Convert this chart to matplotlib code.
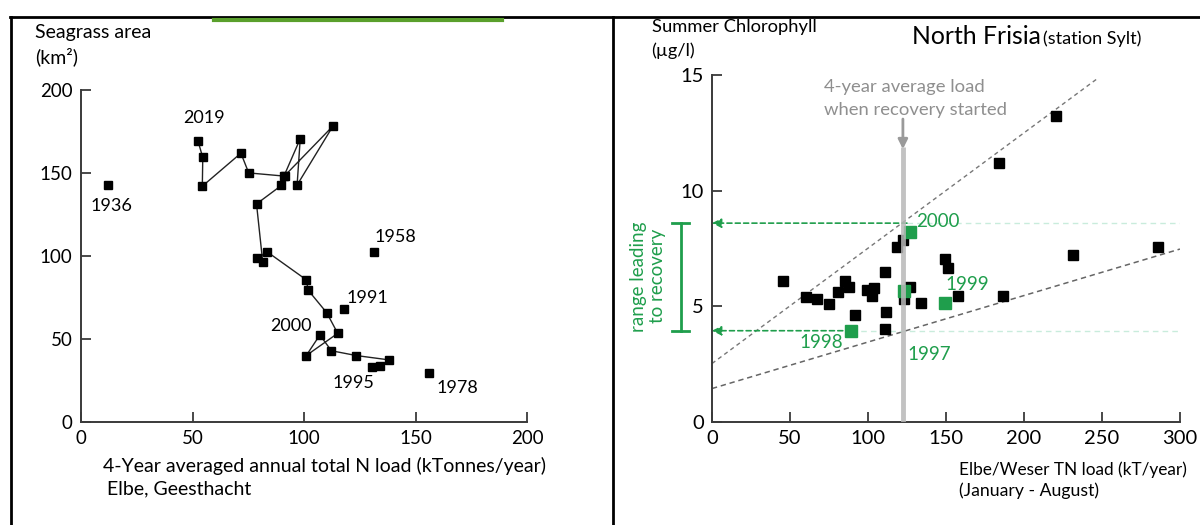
import matplotlib
matplotlib.use("Agg")
import matplotlib.pyplot as plt
from matplotlib.lines import Line2D

plt.rcParams["font.family"] = ["Lato", "DejaVu Sans"]

# Seagrass area vs. 4-year averaged N load (connected track, then lone years)
TRACK_LOAD = [52.5, 54.6, 54.4, 71.7, 75.2, 91.0, 98.3, 96.9, 113.0, 91.4, 89.9, 78.7,
              81.5, 78.7, 83.6, 101.1, 101.8, 110.2, 115.1, 101.0, 107.1, 112.3, 123.5, 138.1]
TRACK_AREA = [169.2, 159.5, 142.2, 162.1, 150.2, 148.3, 170.8, 142.9, 178.5, 148.6, 142.7, 131.5,
              96.3, 98.9, 102.5, 85.7, 79.6, 65.9, 53.5, 40.1, 52.5, 43.0, 40.1, 37.5]
LONE_LOAD = [11.9, 131.2, 117.9, 156.1, 130.4, 133.9]
LONE_AREA = [142.9, 102.7, 67.9, 29.8, 33.4, 33.8]
SEAGRASS_LABELS = [("2019", 55.1, 183.4), ("1936", 13.6, 130.3), ("1958", 140.9, 111.4),
                   ("1991", 128.6, 74.8), ("2000", 94.1, 58.2), ("1995", 122.1, 23.3),
                   ("1978", 168.9, 20.7)]

# Summer chlorophyll vs. Elbe/Weser TN load
CHL_LOAD = [45.6, 60.6, 67.1, 75.1, 80.7, 85.0, 88.0, 91.6, 99.1, 102.5, 103.7, 110.7, 111.7,
            110.7, 118.5, 122.4, 123.1, 126.7, 134.2, 149.7, 151.0, 158.0, 184.2, 186.6,
            220.5, 231.6, 285.7]
CHL_VALUE = [6.08, 5.42, 5.32, 5.11, 5.63, 6.12, 5.83, 4.64, 5.71, 5.45, 5.79, 6.49, 4.76,
             4.02, 7.55, 7.85, 5.32, 5.83, 5.14, 7.04, 6.65, 5.47, 11.21, 5.47, 13.24, 7.23,
             7.59]
RECOVERY_YEARS = ["2000", "1997", "1999", "1998"]
RECOVERY_LOAD = [127.2, 123.3, 149.3, 89.2]
RECOVERY_VALUE = [8.20, 5.68, 5.16, 3.95]
RECOVERY_TEXT = [(130.8, 8.69), (125.6, 2.94), (149.8, 5.94), (55.8, 3.43)]
UPPER_LINE = ([0, 246.7], [2.53, 14.83])
LOWER_LINE = ([0, 300], [1.45, 7.48])
RECOVERY_LOAD_AVG = 122.4
RANGE_LOW, RANGE_HIGH = 3.95, 8.6

GREEN = "#1f9e4c"
SPINE = "#3a3a3a"

fig = plt.figure(figsize=(12, 5.25), dpi=100)

# frame lines and the green strip along the top
fig.add_artist(Line2D([0.008, 1.0], [0.968, 0.968], color="black", lw=2))
fig.add_artist(Line2D([0.009, 0.009], [0.0, 0.968], color="black", lw=2))
fig.add_artist(Line2D([0.511, 0.511], [0.0, 0.968], color="black", lw=2))
fig.add_artist(Line2D([0.178, 0.418], [0.962, 0.962], color="#5aa02c", lw=3))


def style_axes(ax, size):
    for side in ("top", "right"):
        ax.spines[side].set_visible(False)
    for side in ("left", "bottom"):
        ax.spines[side].set_color(SPINE)
        ax.spines[side].set_linewidth(1.4)
    ax.tick_params(direction="in", length=7, width=1.3, color=SPINE,
                   labelsize=size, pad=6)


# left panel
ax1 = fig.add_axes([0.0675, 0.196, 0.3717, 0.632])
ax1.plot(TRACK_LOAD, TRACK_AREA, color="#222222", lw=1.0, marker="s", ms=6,
         mfc="black", mec="black")
ax1.plot(LONE_LOAD, LONE_AREA, ls="none", marker="s", ms=6, mfc="black", mec="black")
for text, x, y in SEAGRASS_LABELS:
    ax1.text(x, y, text, fontsize=13, ha="center", va="center")
ax1.set_xlim(0, 200)
ax1.set_ylim(0, 200)
ax1.set_xticks(range(0, 201, 50))
ax1.set_yticks(range(0, 201, 50))
style_axes(ax1, 13.5)

fig.text(0.029, 0.939, "Seagrass area", fontsize=14, va="center")
fig.text(0.029, 0.891, "(km²)", fontsize=14, va="center")
fig.text(0.086, 0.113, "4-Year averaged annual total N load (kTonnes/year)",
         fontsize=14, va="center")
fig.text(0.089, 0.069, "Elbe, Geesthacht", fontsize=14, va="center")

# right panel
ax2 = fig.add_axes([0.5933, 0.196, 0.39, 0.661])
ax2.set_xlim(0, 300)
ax2.set_ylim(0, 15)
ax2.set_xticks(range(0, 301, 50))
ax2.set_yticks(range(0, 16, 5))
style_axes(ax2, 14.5)

ax2.plot(*UPPER_LINE, color="#777777", lw=1.0, ls=(0, (3, 2.5)))
ax2.plot(*LOWER_LINE, color="#666666", lw=1.1, ls=(0, (3.5, 2.5)))

# recovery range guide lines
for y, x_end in ((RANGE_HIGH, 125.0), (RANGE_LOW, RECOVERY_LOAD[3])):
    ax2.plot([x_end, 300], [y, y], color="#c9ecdc", lw=1.0, ls=(0, (4, 3)))
    ax2.annotate("", xy=(0, y), xytext=(x_end, y),
                 arrowprops=dict(arrowstyle="-|>", color=GREEN, lw=1.2, ls=(0, (3, 2)),
                                 mutation_scale=14, shrinkA=0, shrinkB=0))

ax2.plot(CHL_LOAD, CHL_VALUE, ls="none", marker="s", ms=7, mfc="black", mec="black")
ax2.plot(RECOVERY_LOAD, RECOVERY_VALUE, ls="none", marker="s", ms=8, mfc=GREEN, mec=GREEN)
for year, (x, y) in zip(RECOVERY_YEARS, RECOVERY_TEXT):
    ax2.text(x, y, year, fontsize=13.5, color=GREEN, ha="left", va="center")

# load at the start of recovery
ax2.plot([RECOVERY_LOAD_AVG, RECOVERY_LOAD_AVG], [0, 11.9], color="#b8b8b8", lw=3.5,
         alpha=0.85, solid_capstyle="butt", zorder=5)
ax2.annotate("", xy=(RECOVERY_LOAD_AVG, 11.8), xytext=(RECOVERY_LOAD_AVG, 13.1),
             arrowprops=dict(arrowstyle="-|>", color="#9a9a9a", lw=2, mutation_scale=14,
                             shrinkA=0, shrinkB=0), zorder=6)
ax2.text(72, 14.5, "4-year average load", fontsize=13.3, color="#8f8f8f", va="center")
ax2.text(72, 13.5, "when recovery started", fontsize=13.3, color="#8f8f8f", va="center")

# bracket showing the range leading to recovery
ax2.plot([-20, -20], [RANGE_LOW, RANGE_HIGH], color=GREEN, lw=2, clip_on=False)
for y in (RANGE_LOW, RANGE_HIGH):
    ax2.plot([-25.5, -14.5], [y, y], color=GREEN, lw=2, clip_on=False)
ax2.text(-41, 6.3, "range leading\nto recovery", rotation=90, fontsize=13.5, color=GREEN,
         ha="center", va="center", linespacing=1.1)

fig.text(0.760, 0.931, "North Frisia", fontsize=17.8, va="center")
fig.text(0.951, 0.927, "(station Sylt)", fontsize=13, ha="right", va="center")
fig.text(0.543, 0.949, "Summer Chlorophyll", fontsize=13.2, va="center")
fig.text(0.543, 0.903, "(µg/l)", fontsize=13.2, va="center")
fig.text(0.799, 0.105, "Elbe/Weser TN load (kT/year)", fontsize=12.4, va="center")
fig.text(0.799, 0.065, "(January - August)", fontsize=12.7, va="center")

fig.savefig("out.png", dpi=100)
